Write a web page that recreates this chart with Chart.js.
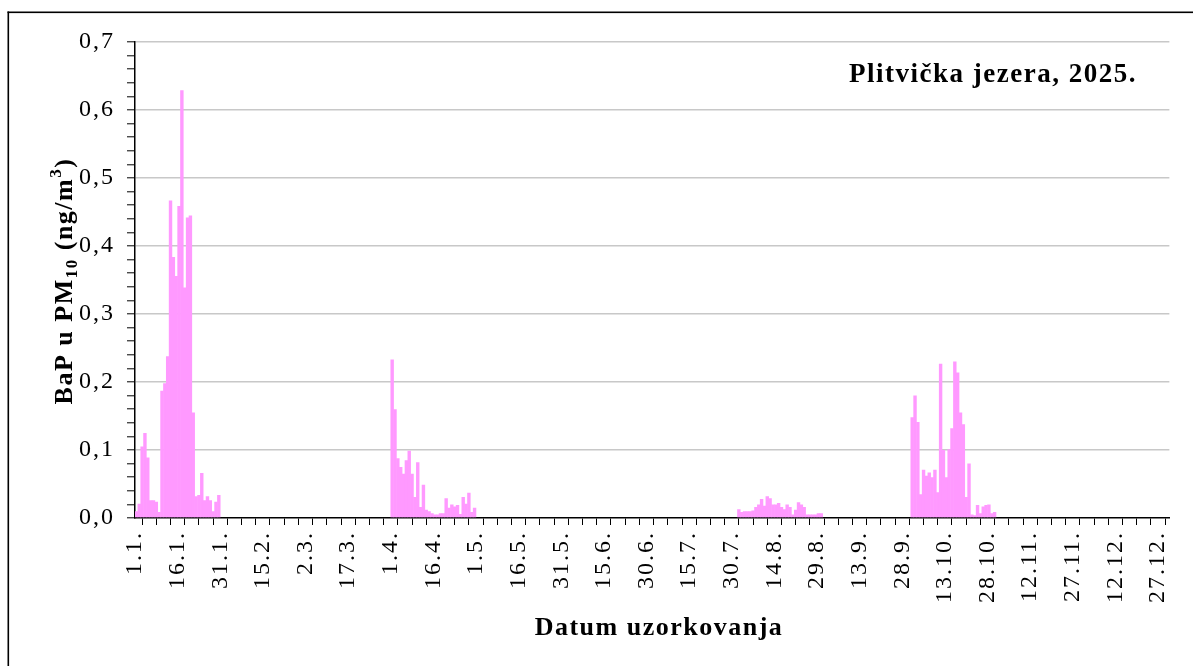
<!DOCTYPE html>
<html>
<head>
<meta charset="utf-8">
<script src="https://cdn.jsdelivr.net/npm/chart.js@4.4.1/dist/chart.umd.min.js"></script>
<style>
  html, body { margin: 0; padding: 0; background: #ffffff; }
  canvas { display: block; }
</style>
</head>
<body>
<canvas id="c" width="1193" height="666" style="width:1193px;height:666px"></canvas>
<script>
// ---- data ----
const chartTitle = 'Plitvička jezera, 2025.';
const xAxisTitle = 'Datum uzorkovanja';
const year = 2025;

const janStart = '2025-01-01';
const janValues = [0.010, 0.021, 0.105, 0.125, 0.089, 0.026, 0.026, 0.024, 0.009, 0.187,
                   0.198, 0.238, 0.467, 0.384, 0.356, 0.459, 0.629, 0.339, 0.442, 0.445,
                   0.155, 0.032, 0.034, 0.066, 0.026, 0.032, 0.026, 0.010, 0.024, 0.034];

const aprStart = '2025-04-01';
const aprValues = [0.233, 0.160, 0.088, 0.075, 0.065, 0.085, 0.099, 0.065, 0.031, 0.082,
                   0.016, 0.049, 0.012, 0.010, 0.007, 0.005, 0.005, 0.007, 0.007, 0.029,
                   0.015, 0.020, 0.017, 0.019, 0.006, 0.031, 0.021, 0.037, 0.009, 0.015];

const augStart = '2025-08-01';
const augValues = [0.013, 0.009, 0.010, 0.010, 0.010, 0.011, 0.016, 0.020, 0.028, 0.018,
                   0.032, 0.029, 0.020, 0.020, 0.022, 0.016, 0.013, 0.020, 0.016, 0.005,
                   0.012, 0.023, 0.020, 0.016, 0.005, 0.005, 0.005, 0.005, 0.007, 0.007];

const octStart = '2025-10-01';
const octValues = [0.148, 0.180, 0.141, 0.035, 0.071, 0.062, 0.067, 0.060, 0.071, 0.038,
                   0.227, 0.100, 0.060, 0.101, 0.132, 0.230, 0.214, 0.155, 0.138, 0.031,
                   0.080, 0.005, 0.004, 0.019, 0.007, 0.017, 0.019, 0.020, 0.007, 0.009];

const xTickLabels = ['1.1.', '16.1.', '31.1.', '15.2.', '2.3.', '17.3.', '1.4.', '16.4.', '1.5.',
                     '16.5.', '31.5.', '15.6.', '30.6.', '15.7.', '30.7.', '14.8.', '29.8.',
                     '13.9.', '28.9.', '13.10.', '28.10.', '12.11.', '27.11.', '12.12.', '27.12.'];
const yTickLabels = ['0,0', '0,1', '0,2', '0,3', '0,4', '0,5', '0,6', '0,7'];

// ---- build points (day of year from dates) ----
function dayOfYear(iso) {
  const p = iso.split('-').map(Number);
  return Math.round((Date.UTC(p[0], p[1] - 1, p[2]) - Date.UTC(year, 0, 1)) / 86400000);
}
const points = [];
[[janStart, janValues], [aprStart, aprValues], [augStart, augValues], [octStart, octValues]]
  .forEach(([start, vals]) => {
    const d0 = dayOfYear(start);
    vals.forEach((v, i) => points.push({ x: d0 + i + 0.5, y: v }));
  });

const SERIF = '"Liberation Serif", "Times New Roman", serif';
const LS = '2px';

const spacingPlugin = {
  id: 'spacing',
  afterInit(chart) { chart.ctx.letterSpacing = LS; },
  beforeUpdate(chart) { chart.ctx.letterSpacing = LS; },
  beforeDraw(chart) {
    const ctx = chart.ctx;
    ctx.letterSpacing = LS;
    ctx.save();
    ctx.fillStyle = '#000';
    ctx.fillRect(7.5, 11.5, chart.width, 1.6);
    ctx.fillRect(7.5, 11.5, 1.6, chart.height);
    ctx.restore();
  },
  afterDraw(chart) {
    const ctx = chart.ctx;
    ctx.save();
    ctx.fillStyle = '#000';
    ctx.textBaseline = 'alphabetic';
    // chart title
    ctx.letterSpacing = '1.5px';
    ctx.font = 'bold 27px ' + SERIF;
    ctx.textAlign = 'left';
    ctx.fillText(chartTitle, 849, 82);
    // x axis title
    ctx.font = 'bold 26px ' + SERIF;
    ctx.textAlign = 'center';
    ctx.fillText(xAxisTitle, 659, 635);
    // y axis title with sub/superscript
    const parts = [
      { t: 'BaP u PM', s: 26, dy: 0 },
      { t: '10', s: 17, dy: 5 },
      { t: ' (ng/m', s: 26, dy: 0 },
      { t: '3', s: 17, dy: -11 },
      { t: ')', s: 26, dy: 0 }
    ];
    let total = 0;
    parts.forEach(p => { ctx.font = 'bold ' + p.s + 'px ' + SERIF; p.w = ctx.measureText(p.t).width; total += p.w; });
    ctx.translate(72, 281);
    ctx.rotate(-Math.PI / 2);
    ctx.textAlign = 'left';
    let x = -total / 2;
    parts.forEach(p => { ctx.font = 'bold ' + p.s + 'px ' + SERIF; ctx.fillText(p.t, x, p.dy); x += p.w; });
    ctx.restore();
  }
};

const isTenth = v => Math.abs(Math.round(v * 100)) % 10 === 0;

new Chart(document.getElementById('c'), {
  type: 'bar',
  data: {
    datasets: [{
      data: points,
      backgroundColor: '#FF99FF',
      borderWidth: 0,
      barPercentage: 1.2,
      categoryPercentage: 1
    }]
  },
  options: {
    responsive: false,
    animation: false,
    devicePixelRatio: 1,
    layout: { padding: { left: 0, top: 42, right: 18, bottom: 0 } },
    plugins: { legend: { display: false }, title: { display: false }, tooltip: { enabled: false } },
    scales: {
      x: {
        type: 'linear',
        min: 0,
        max: 364,
        offset: false,
        border: { display: true, color: '#000', width: 1.5 },
        grid: { drawOnChartArea: false, drawTicks: true, tickLength: 7, tickColor: '#000', tickWidth: 1 },
        ticks: {
          stepSize: 5,
          includeBounds: false,
          autoSkip: false,
          minRotation: 90,
          maxRotation: 90,
          padding: 6,
          color: '#000',
          font: { family: SERIF, size: 24 },
          callback: (v) => (v % 15 === 0 ? xTickLabels[v / 15] : '')
        },
        afterFit: (s) => { s.height = 148; }
      },
      y: {
        min: 0,
        max: 0.7,
        border: { display: true, color: '#000', width: 1.5 },
        grid: {
          drawOnChartArea: true,
          drawTicks: true,
          tickLength: 8,
          tickWidth: 1,
          tickColor: '#000',
          lineWidth: 1.6,
          color: (c) => (c.tick && isTenth(c.tick.value) && c.tick.value > 0.001 ? '#c8c8c8' : 'rgba(0,0,0,0)')
        },
        ticks: {
          stepSize: 0.02,
          autoSkip: false,
          padding: 12,
          color: '#000',
          font: { family: SERIF, size: 24 },
          callback: (v) => (isTenth(v) ? yTickLabels[Math.round(v * 10)] : '')
        },
        afterFit: (s) => { s.width = 135; }
      }
    }
  },
  plugins: [spacingPlugin]
});
</script>
</body>
</html>
